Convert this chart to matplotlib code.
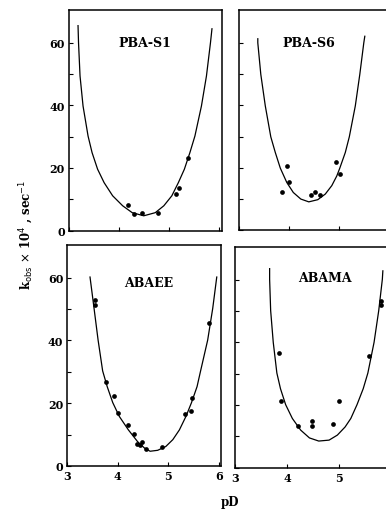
import numpy as np
import matplotlib
matplotlib.use('Agg')
import matplotlib.pyplot as plt

# panel names
names = ['PBA-S1', 'PBA-S6', 'ABAEE', 'ABAMA']

# measured points (pD, kobs x 10^4)
s1_pd = [4.18, 4.30, 4.45, 4.77, 5.14, 5.20, 5.38]
s1_k = [8.1, 5.4, 5.6, 5.5, 11.6, 13.7, 23.1]

s6_pd = [3.85, 3.95, 3.99, 4.44, 4.51, 4.61, 4.94, 5.02]
s6_k = [12.4, 20.6, 15.4, 11.2, 12.1, 11.3, 21.7, 17.9]

ee_pd = [3.55, 3.55, 3.77, 3.92, 4.01, 4.20, 4.32, 4.39, 4.43, 4.47, 4.55, 4.87, 5.34, 5.45, 5.47, 5.81]
ee_k = [53.0, 51.2, 26.9, 22.3, 16.8, 13.0, 10.2, 7.0, 6.8, 7.6, 5.3, 5.9, 16.6, 17.6, 21.8, 45.6]

ma_pd = [3.84, 3.88, 4.21, 4.48, 4.48, 4.88, 5.00, 5.59, 5.81, 5.81]
ma_k = [36.6, 21.3, 13.4, 15.0, 13.4, 13.9, 21.3, 35.7, 53.2, 51.9]

# fitted curves
s1_cx = [3.18, 3.19, 3.22, 3.28, 3.38, 3.46, 3.57, 3.70, 3.87, 4.07, 4.26, 4.49,
         4.72, 4.89, 5.05, 5.18, 5.30, 5.41, 5.51, 5.64, 5.74, 5.82, 5.85]
s1_cy = [65.5, 60, 49.4, 39.8, 30.2, 24.9, 19.6, 15.3, 11.1, 7.9, 5.7, 4.7,
         5.7, 7.9, 11.1, 15.3, 19.6, 24.9, 30.2, 39.8, 49.4, 60, 64.5]

s6_cx = [3.37, 3.37, 3.43, 3.52, 3.63, 3.72, 3.82, 3.95, 4.08, 4.23, 4.39, 4.57,
         4.72, 4.85, 4.95, 5.01, 5.12, 5.20, 5.32, 5.41, 5.49, 5.51]
s6_cy = [61.3, 60, 49.9, 39.8, 29.9, 24.9, 19.9, 15.3, 12.1, 10.0, 9.1, 9.8,
         11.6, 14.3, 17.4, 19.9, 24.9, 29.9, 39.8, 49.9, 60, 62.1]

ee_cx = [3.45, 3.53, 3.61, 3.70, 3.79, 3.90, 4.03, 4.21, 4.39, 4.53, 4.64, 4.79,
         4.95, 5.09, 5.22, 5.35, 5.46, 5.57, 5.64, 5.78, 5.88, 5.96]
ee_cy = [60.2, 50.2, 40.1, 30.3, 25.3, 20.2, 15.8, 11.5, 7.8, 5.7, 4.7, 5.0,
         6.2, 8.4, 11.5, 15.8, 20.2, 25.3, 30.3, 40.1, 50.2, 60.2]

ma_cx = [3.66, 3.66, 3.68, 3.73, 3.80, 3.87, 3.97, 4.10, 4.26, 4.43, 4.61, 4.81,
         4.97, 5.12, 5.23, 5.35, 5.47, 5.56, 5.68, 5.77, 5.84, 5.85]
ma_cy = [63.5, 60.1, 50.1, 40, 30.2, 25.2, 20.1, 15.7, 12.0, 9.5, 8.5, 8.8,
         10.4, 13.0, 15.7, 20.1, 25.2, 30.2, 40, 50.1, 60.1, 62.8]

label_pos = [(4.52, 60), (4.38, 60), (4.62, 58.6), (4.72, 60.6)]

pts = [(s1_pd, s1_k), (s6_pd, s6_k), (ee_pd, ee_k), (ma_pd, ma_k)]
curves = [(s1_cx, s1_cy), (s6_cx, s6_cy), (ee_cx, ee_cy), (ma_cx, ma_cy)]

W, H = 386, 510
fig = plt.figure(figsize=(W / 100, H / 100), dpi=100)

# axes boxes in pixels: left, top, width, bottom
boxes = [
    (69, 11, 153, 231.5),
    (239.3, 11, 152.5, 231.3),
    (67.3, 245.7, 154, 467),
    (235.5, 247.7, 157.7, 468.7),
]

tick_font = dict(family='DejaVu Serif', weight='bold', size=8)

for i, (l, t, w, b) in enumerate(boxes):
    ax = fig.add_axes([l / W, 1 - b / H, w / W, (b - t) / H])
    ax.set_xlim(3, 6.05)
    ax.set_ylim(0, 70.5)
    ax.plot(curves[i][0], curves[i][1], color='black', lw=0.9)
    ax.plot(pts[i][0], pts[i][1], 'o', color='black', ms=3.4, mew=0)
    ax.text(label_pos[i][0], label_pos[i][1], names[i], ha='center', va='center',
            family='DejaVu Serif', weight='bold', size=9)
    for s in ax.spines.values():
        s.set_linewidth(1.1)
    ax.set_yticks([0, 20, 40, 60])
    ax.set_yticks([10, 30, 50], minor=True)
    ax.set_xticks([3, 4, 5, 6])
    ax.tick_params(direction='in', length=3, width=0.8, which='both')
    ax.tick_params(axis='both', pad=3)
    if i in (0, 2):
        ax.set_yticklabels(['0', '20', '40', '60'], fontdict=tick_font)
    else:
        ax.set_yticklabels([])
    if i in (2, 3):
        ax.set_xticklabels(['3', '4', '5', '6'], fontdict=tick_font)
    else:
        ax.set_xticklabels([])

fig.text(27 / W, 1 - 235 / H, r'k$_{\rm obs}$ $\times$ 10$^4$ , sec$^{-1}$', rotation=90,
         ha='center', va='center', family='DejaVu Serif', weight='bold', size=8.5)
fig.text(230 / W, 1 - 503 / H, 'pD', ha='center', va='center',
         family='DejaVu Serif', weight='bold', size=8.5)

fig.savefig('out.png', dpi=100)
